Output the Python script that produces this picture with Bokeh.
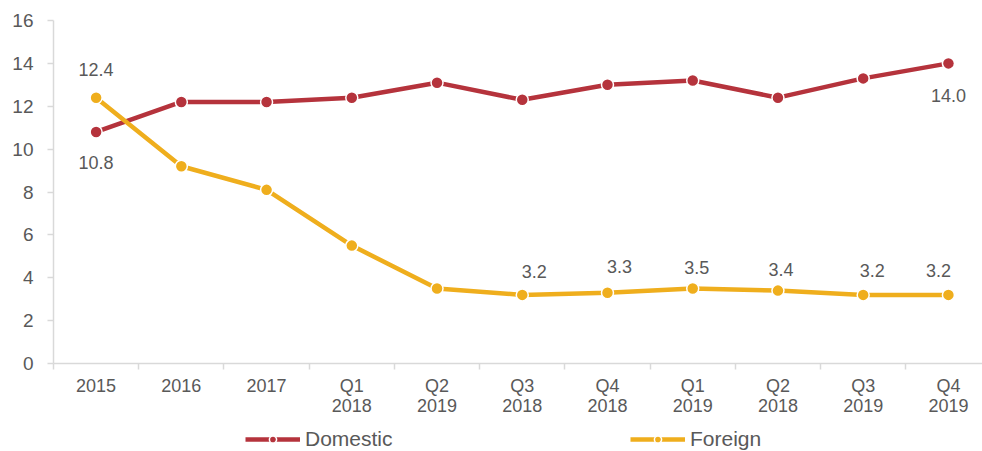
from bokeh.plotting import figure
from bokeh.layouts import column
from bokeh.models import (Range1d, FixedTicker, ColumnDataSource, Legend, LegendItem)
from bokeh.core.properties import value
from bokeh.embed import file_html
from bokeh.resources import INLINE

periods = ["2015", "2016", "2017", "Q1\n2018", "Q2\n2019", "Q3\n2018",
           "Q4\n2018", "Q1\n2019", "Q2\n2018", "Q3\n2019", "Q4\n2019"]
domestic = [10.8, 12.2, 12.2, 12.4, 13.1, 12.3, 13.0, 13.2, 12.4, 13.3, 14.0]
foreign = [12.4, 9.2, 8.1, 5.5, 3.5, 3.2, 3.3, 3.5, 3.4, 3.2, 3.2]
y_ticks = [0, 2, 4, 6, 8, 10, 12, 14, 16]
series_names = ["Domestic", "Foreign"]

# which points carry a value label
dom_labelled = [0, 10]
for_labelled = [0, 5, 6, 7, 8, 9, 10]

RED = "#B5333C"
YEL = "#EFAE1D"
TXT = "#595959"
AXC = "#D9D9D9"
FONT = "Liberation Sans"

xs = list(range(len(periods)))

p = figure(width=982, height=425, x_range=Range1d(-0.5, 10.40), y_range=Range1d(0, 16),
           output_backend="svg", toolbar_location=None,
           min_border_left=53, min_border_right=0, min_border_top=20, min_border_bottom=62)
p.outline_line_color = None
p.xgrid.visible = False
p.ygrid.visible = False
p.background_fill_color = "white"
p.border_fill_color = "white"

# axes
yax = p.yaxis[0]
yax.ticker = FixedTicker(ticks=y_ticks)
yax.axis_label = None
yax.axis_line_color = AXC
yax.axis_line_width = 1.5
yax.major_tick_line_color = AXC
yax.major_tick_line_width = 1.5
yax.major_tick_out = 6
yax.major_tick_in = 0
yax.minor_tick_line_color = None
yax.major_label_text_font = FONT
yax.major_label_text_font_size = "19px"
yax.major_label_text_color = TXT
yax.major_label_standoff = 14

xax = p.xaxis[0]
xax.ticker = FixedTicker(ticks=xs, minor_ticks=[i - 0.5 for i in range(len(periods) + 1)])
xax.major_label_overrides = {i: lab for i, lab in enumerate(periods)}
xax.axis_label = None
xax.axis_label_standoff = 0
xax.axis_line_color = AXC
xax.axis_line_width = 1.5
xax.major_tick_line_color = None
xax.major_tick_out = 0
xax.major_tick_in = 0
xax.minor_tick_line_color = AXC
xax.minor_tick_line_width = 1.5
xax.minor_tick_out = 6
xax.minor_tick_in = 0
xax.major_label_text_font = FONT
xax.major_label_text_font_size = "18px"
xax.major_label_text_line_height = 1.0
xax.major_label_text_color = TXT
xax.major_label_standoff = 6

# series
l1 = p.line(xs, domestic, line_color=RED, line_width=4.5)
s1 = p.scatter(xs, domestic, size=12, fill_color=RED, line_color="white", line_width=1.5)
l2 = p.line(xs, foreign, line_color=YEL, line_width=4.5)
s2 = p.scatter(xs, foreign, size=12, fill_color=YEL, line_color="white", line_width=1.5)

# value labels
dom_dy = [31, 32]
for_dy = [-28, -23, -26, -21, -21, -24, -24]
for_dx = [0, 12, 12, 4, 3, 9, -10]
dsrc = ColumnDataSource(dict(x=[xs[i] for i in dom_labelled],
                             y=[domestic[i] for i in dom_labelled],
                             t=["%.1f" % domestic[i] for i in dom_labelled],
                             dy=dom_dy, dx=[0, 0]))
fsrc = ColumnDataSource(dict(x=[xs[i] for i in for_labelled],
                             y=[foreign[i] for i in for_labelled],
                             t=["%.1f" % foreign[i] for i in for_labelled],
                             dy=for_dy, dx=for_dx))
for src in (dsrc, fsrc):
    p.text(x="x", y="y", text="t", source=src, x_offset="dx", y_offset="dy",
           text_align="center", text_baseline="middle",
           text_font=value(FONT), text_font_size="18px", text_color=TXT)

# legend strip underneath the chart (its frame is aligned with the chart's frame)
lf = figure(width=982, height=26, x_range=Range1d(0, 1), y_range=Range1d(0, 1),
            output_backend="svg", toolbar_location=None,
            x_axis_location=None, y_axis_location=None, min_border=0)
lf.outline_line_color = None
lf.grid.visible = False
lf.background_fill_color = "white"
lf.border_fill_color = "white"
# legend-only renderers, placed outside the strip's visible range
g1 = lf.line([5, 6], [5, 6], line_color=RED, line_width=4.5)
g1s = lf.scatter([5], [5], size=12, fill_color=RED, line_color="white", line_width=1.5)
g2 = lf.line([5, 6], [5, 6], line_color=YEL, line_width=4.5)
g2s = lf.scatter([5], [5], size=12, fill_color=YEL, line_color="white", line_width=1.5)

legend = Legend(items=[LegendItem(label=series_names[0], renderers=[g1, g1s]),
                       LegendItem(label=series_names[1], renderers=[g2, g2s])],
                orientation="horizontal", location=(192, 0),
                glyph_width=55, glyph_height=18, label_height=18, label_standoff=5, spacing=225,
                label_width=100,
                padding=0, margin=0, border_line_color=None, background_fill_alpha=0,
                label_text_font=FONT, label_text_font_size="21px", label_text_line_height=1.0,
                label_text_color=TXT)
lf.add_layout(legend)

open("out.html", "w").write(file_html(column(p, lf, spacing=0), INLINE))
